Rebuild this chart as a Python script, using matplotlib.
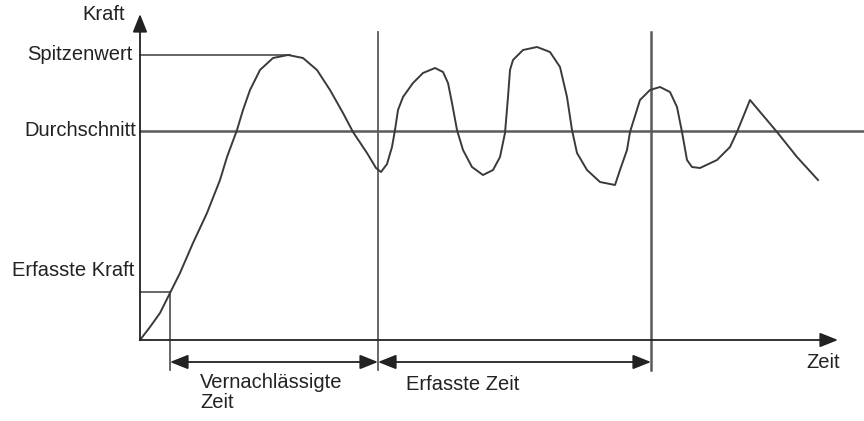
import matplotlib.pyplot as plt

plt.rcParams['font.family'] = ['Liberation Sans', 'DejaVu Sans']

# force curve (time, force)
t = [0, 10, 20, 30, 40, 53, 67, 80, 87, 97, 103, 110, 120, 133, 148, 163, 177, 190,
     203, 213, 227, 236, 241, 247, 252, 255, 258, 263, 273, 283, 295, 303, 308, 312,
     317, 323, 332, 343, 353, 360, 365, 368, 370, 373, 383, 397, 410, 420, 427, 432,
     437, 447, 460, 475, 480, 487, 490, 500, 510, 520, 530, 537, 542, 547, 552, 560,
     577, 590, 597, 610, 637, 657, 678]
f = [0, 13, 27, 47, 67, 97, 127, 160, 183, 210, 230, 250, 270, 282, 285, 282, 270, 250,
     227, 208, 187, 172, 168, 176, 193, 210, 230, 243, 257, 267, 272, 268, 257, 237,
     210, 190, 173, 165, 170, 183, 207, 243, 270, 280, 290, 293, 288, 273, 243, 210,
     187, 170, 158, 155, 170, 190, 208, 240, 250, 253, 248, 233, 208, 180, 173, 172,
     180, 193, 208, 240, 208, 183, 160]

peak = 285
average = 209
captured_force = 48
t_ignore_start = 30
t_capture_start = 238
t_capture_end = 511

fig = plt.figure(figsize=(8.64, 4.21), dpi=100)
ax = fig.add_axes([0, 0, 1, 1])
ax.set_xlim(-140, 724)
ax.set_ylim(-81, 340)
ax.axis('off')

gray = '#5a5a5a'
dark = '#222222'
lw = 1.3

# axes with arrows
head = '-|>,head_length=0.55,head_width=0.22'
ax.annotate('', xy=(0, 326), xytext=(0, 0),
            arrowprops=dict(arrowstyle=head, color=dark, lw=lw, mutation_scale=20,
                            shrinkA=0, shrinkB=0))
ax.annotate('', xy=(698, 0), xytext=(0, 0),
            arrowprops=dict(arrowstyle=head, color=dark, lw=lw, mutation_scale=20,
                            shrinkA=0, shrinkB=0))

# reference lines
ax.plot([0, 150], [peak, peak], color=gray, lw=lw)
ax.plot([0, 724], [average, average], color=gray, lw=1.8)
ax.plot([t_capture_start, t_capture_start], [-30, 308], color=gray, lw=lw)
ax.plot([t_capture_end, t_capture_end], [-30, 308], color=gray, lw=1.8)
ax.plot([0, t_ignore_start], [captured_force, captured_force], color=gray, lw=lw)
ax.plot([t_ignore_start, t_ignore_start], [captured_force, -30], color=gray, lw=lw)

# curve
ax.plot(t, f, color='#3a3a3a', lw=1.4, solid_joinstyle='round')

# dimension arrows
dim = '<|-|>,head_length=0.55,head_width=0.22'
for a, b in [(t_ignore_start, t_capture_start), (t_capture_start, t_capture_end)]:
    ax.annotate('', xy=(a, -22), xytext=(b, -22),
                arrowprops=dict(arrowstyle=dim, color=dark, lw=lw,
                                mutation_scale=20, shrinkA=0, shrinkB=0))

fs = 14.5
tc = '#222222'
ax.text(-15, 325, 'Kraft', ha='right', va='center', fontsize=fs, color=tc)
ax.text(-7, peak, 'Spitzenwert', ha='right', va='center', fontsize=fs, color=tc)
ax.text(-4, average, 'Durchschnitt', ha='right', va='center', fontsize=fs, color=tc)
ax.text(-6, 70, 'Erfasste Kraft', ha='right', va='center', fontsize=fs, color=tc)
ax.text(60, -42, 'Vernachlässigte', ha='left', va='center', fontsize=fs, color=tc)
ax.text(60, -63, 'Zeit', ha='left', va='center', fontsize=fs, color=tc)
ax.text(266, -45, 'Erfasste Zeit', ha='left', va='center', fontsize=fs, color=tc)
ax.text(700, -23, 'Zeit', ha='right', va='center', fontsize=fs, color=tc)

fig.savefig('out.png', dpi=100, facecolor='white')
